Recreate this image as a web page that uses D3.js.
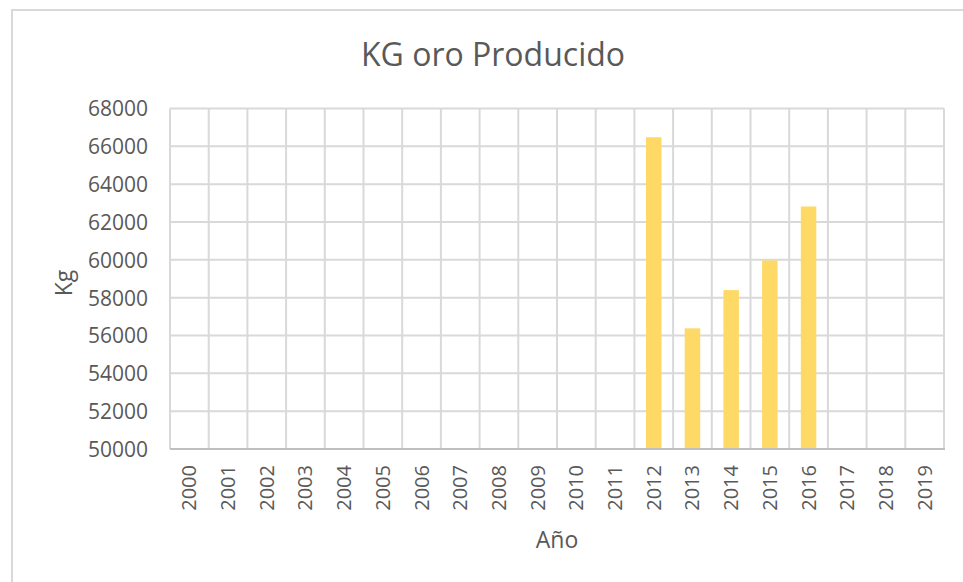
<!DOCTYPE html>
<html><head><meta charset="utf-8">
<script src="https://cdn.jsdelivr.net/npm/d3@7/dist/d3.min.js"></script>
<style>
html,body{margin:0;padding:0;background:#fff;}
svg{display:block;}
text{font-family:"Open Sans","Liberation Sans",sans-serif;fill:#595959;}
</style></head>
<body>
<svg id="chart" width="963" height="582"></svg>
<script>
const years = ["2000","2001","2002","2003","2004","2005","2006","2007","2008","2009","2010","2011","2012","2013","2014","2015","2016","2017","2018","2019"];
const kgOro = [null,null,null,null,null,null,null,null,null,null,null,null,66480,56380,58400,59970,62820,null,null,null];
const yTicks = [50000,52000,54000,56000,58000,60000,62000,64000,66000,68000];
const chartTitle = "KG oro Producido";
const xTitle = "Año";
const yTitle = "Kg";

const svg = d3.select("#chart");
const W = 963, H = 582;
const m = {left:170, right:944, top:108.5, bottom:449};

// outer frame
svg.append("rect").attr("x",12).attr("y",10).attr("width",W).attr("height",H)
  .attr("fill","#fff").attr("stroke","#d9d9d9").attr("stroke-width",2);

const x = d3.scaleBand().domain(years).range([m.left,m.right]).paddingInner(0.6).paddingOuter(0.3);
const xb = d3.scaleBand().domain(years).range([m.left,m.right]);
const y = d3.scaleLinear().domain([50000,68000]).range([m.bottom,m.top]);

// horizontal grid
svg.append("g").selectAll("line").data(yTicks).join("line")
  .attr("x1",m.left).attr("x2",m.right)
  .attr("y1",d=>y(d)).attr("y2",d=>y(d))
  .attr("stroke","#d9d9d9").attr("stroke-width",2);
// vertical grid
const vb = years.map(d=>xb(d)).concat([m.right]);
svg.append("g").selectAll("line").data(vb).join("line")
  .attr("x1",d=>d).attr("x2",d=>d)
  .attr("y1",m.top).attr("y2",m.bottom)
  .attr("stroke","#d9d9d9").attr("stroke-width",2);

// bars
const data = years.map((yr,i)=>({yr, v:kgOro[i]})).filter(d=>d.v!=null);
svg.append("g").selectAll("rect").data(data).join("rect")
  .attr("x",d=>x(d.yr)).attr("width",x.bandwidth())
  .attr("y",d=>y(d.v)).attr("height",d=>y(50000)-y(d.v))
  .attr("fill","#ffd966");

// bottom axis line
svg.append("line").attr("x1",m.left).attr("x2",m.right+1)
  .attr("y1",m.bottom).attr("y2",m.bottom)
  .attr("stroke","#bfbfbf").attr("stroke-width",2);

// y axis labels
const yAxis = d3.axisLeft(y).tickValues(yTicks).tickSize(0).tickPadding(0).tickFormat(d=>String(d));
const ga = svg.append("g").attr("transform",`translate(148,0)`).call(yAxis);
ga.select(".domain").remove();
ga.selectAll("text").attr("font-size",21).attr("fill","#595959")
  .style("font-family","'Open Sans','Liberation Sans',sans-serif").attr("dy","0.35em");

// x axis labels
const xAxis = d3.axisBottom(xb).tickSize(0).tickPadding(0);
const gx = svg.append("g").attr("transform",`translate(0,${m.bottom})`).call(xAxis);
gx.select(".domain").remove();
gx.selectAll("text").attr("font-size",20).attr("fill","#595959")
  .style("font-family","'Open Sans','Liberation Sans',sans-serif")
  .attr("text-anchor","end").attr("dy","0.35em").attr("dx",0).attr("y",0)
  .attr("transform","translate(0,16) rotate(-90)");

// titles
svg.append("text").attr("x",493).attr("y",66).attr("text-anchor","middle")
  .attr("font-size",32).text(chartTitle);
svg.append("text").attr("x",557).attr("y",548).attr("text-anchor","middle")
  .attr("font-size",23).text(xTitle);
svg.append("text").attr("transform","translate(72,283) rotate(-90)").attr("text-anchor","middle")
  .attr("font-size",23).text(yTitle);
</script>
</body></html>
